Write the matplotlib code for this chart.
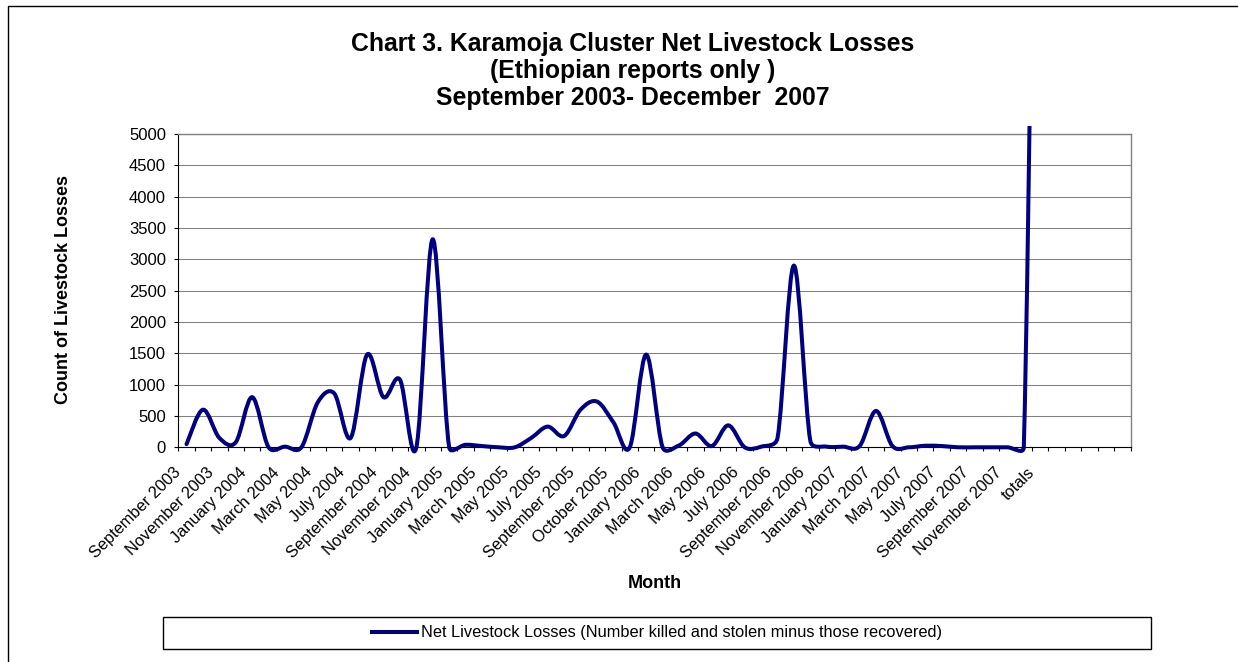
import numpy as np
import matplotlib
matplotlib.use('Agg')
import matplotlib.pyplot as plt
import matplotlib.transforms as mtransforms
from matplotlib.path import Path
from matplotlib.patches import PathPatch, Rectangle
from matplotlib.lines import Line2D

# Arial-like font
plt.rcParams['font.family'] = ['Liberation Sans', 'DejaVu Sans']

# categories (one per month, last one is the totals column)
months = ['September 2003', 'October 2003', 'November 2003', 'December 2003',
          'January 2004', 'February 2004', 'March 2004', 'April 2004',
          'May 2004', 'June 2004', 'July 2004', 'August 2004',
          'September 2004', 'October 2004', 'November 2004', 'December 2004',
          'January 2005', 'February 2005', 'March 2005', 'April 2005',
          'May 2005', 'June 2005', 'July 2005', 'August 2005',
          'September 2005', 'October 2005', 'October 2005', 'December 2005',
          'January 2006', 'February 2006', 'March 2006', 'April 2006',
          'May 2006', 'June 2006', 'July 2006', 'August 2006',
          'September 2006', 'October 2006', 'November 2006', 'December 2006',
          'January 2007', 'February 2007', 'March 2007', 'April 2007',
          'May 2007', 'June 2007', 'July 2007', 'August 2007',
          'September 2007', 'October 2007', 'November 2007', 'December 2007',
          'totals']

# net losses
losses = [50, 600, 150, 80, 800, 0, 10, 0, 720, 860,
          150, 1480, 800, 1080, 0, 3320, 0, 40, 20, 0,
          0, 150, 330, 180, 600, 730, 400, 0, 1480, 0,
          30, 220, 20, 350, 0, 10, 150, 2900, 100, 10,
          10, 20, 580, 20, 0, 25, 20, 0, 0, 0,
          0, 0, 18500]

n_slots = 58   # the axis keeps a few empty slots after "totals"
navy = '#000080'


def smooth_path(xs, ys, pix):
    # Excel style smoothed line: bezier with 1/6 tangents, limited on short legs
    P = np.column_stack([xs, ys])
    n = len(P)
    verts = [P[0]]
    codes = [Path.MOVETO]
    for i in range(n - 1):
        i0 = max(i - 1, 0)
        i3 = min(i + 2, n - 1)
        d12 = np.hypot(*(pix[i + 1] - pix[i]))
        d02 = np.hypot(*(pix[i + 1] - pix[i0]))
        d13 = np.hypot(*(pix[i3] - pix[i]))
        f0 = min(1 / 6, d12 / 2 / d02) if d02 > 0 else 0
        f1 = min(1 / 6, d12 / 2 / d13) if d13 > 0 else 0
        verts.append(P[i] + f0 * (P[i + 1] - P[i0]))
        verts.append(P[i + 1] - f1 * (P[i3] - P[i]))
        verts.append(P[i + 1])
        codes += [Path.CURVE4] * 3
    return Path(verts, codes)


W, H = 1238, 662
fig = plt.figure(figsize=(W / 100, H / 100), dpi=100)
ax = fig.add_axes([178.3 / W, 1 - 447.3 / H, (1130.5 - 178.3) / W, (447.3 - 134) / H])
ax.set_xlim(-0.5, n_slots - 0.5)
ax.set_ylim(0, 5000)

x = np.arange(len(losses), dtype=float)
y = np.array(losses, dtype=float)
pix = ax.transData.transform(np.column_stack([x, y]))
line = PathPatch(smooth_path(x, y, pix), facecolor='none', edgecolor=navy,
                 lw=2.9, joinstyle='round', capstyle='round', zorder=3)
ax.add_patch(line)
clip = Rectangle((0, -0.06), 1, 1.085, transform=ax.transAxes)
line.set_clip_path(clip)

# axes look
ax.set_yticks(np.arange(0, 5001, 500))
ax.yaxis.grid(True, color='#808080', lw=0.75)
ax.set_axisbelow(True)
for s in ['left', 'bottom']:
    ax.spines[s].set_color('black')
    ax.spines[s].set_linewidth(0.8)
for s in ['top', 'right']:
    ax.spines[s].set_color('#808080')
    ax.spines[s].set_linewidth(1.0)
ax.tick_params(axis='y', direction='out', length=2.9, width=0.8, pad=6.0, labelsize=12)

ax.set_xticks(np.arange(-0.5, n_slots, 1.0))
ax.set_xticklabels([])
ax.tick_params(axis='x', which='major', direction='out', length=2.9, width=0.8)
lab_idx = list(range(0, len(months), 2))
ax.set_xticks(lab_idx, minor=True)
ax.set_xticklabels([months[i] for i in lab_idx], minor=True, rotation=45,
                   ha='right', rotation_mode='anchor', fontsize=11.8)
ax.tick_params(axis='x', which='minor', length=0, pad=9)
shift = mtransforms.ScaledTranslation(-13 / 100, -5 / 100, fig.dpi_scale_trans)
for lbl in ax.get_xticklabels(minor=True):
    lbl.set_transform(lbl.get_transform() + shift)

# titles
tx = 632.5 / W
fig.text(tx, 1 - 51 / H, 'Chart 3. Karamoja Cluster Net Livestock Losses',
         ha='center', va='baseline', fontsize=17.8, fontweight='bold')
fig.text(tx, 1 - 78 / H, '(Ethiopian reports only )',
         ha='center', va='baseline', fontsize=17.8, fontweight='bold')
fig.text(tx, 1 - 105 / H, 'September 2003- December  2007',
         ha='center', va='baseline', fontsize=17.8, fontweight='bold')
fig.text(655 / W, 1 - 588.3 / H, 'Month', ha='center', va='baseline',
         fontsize=13, fontweight='bold')
fig.text(63.5 / W, 1 - 289 / H, 'Count of Livestock Losses', rotation=90,
         ha='center', va='center', fontsize=13, fontweight='bold')

# legend box under the chart
fig.add_artist(Rectangle((163 / W, 1 - 649 / H), (1151 - 163) / W, 32 / H,
                         transform=fig.transFigure, fill=False,
                         edgecolor='black', lw=1.0))
h = Line2D([], [], color=navy, lw=2.9)
fig.legend(handles=[h],
           labels=['Net Livestock Losses (Number killed and stolen minus those recovered)'],
           loc='center', bbox_to_anchor=(657 / W, 1 - 633 / H), frameon=False,
           handlelength=2.7, handletextpad=0.25, fontsize=11.8)

# outer chart border (only left and top edges are in view)
fig.add_artist(Rectangle((8 / W, -0.1), 1.2, 1.1 - 6 / H, transform=fig.transFigure,
                         fill=False, edgecolor='black', lw=1.0))

fig.savefig('out.png', dpi=100)
